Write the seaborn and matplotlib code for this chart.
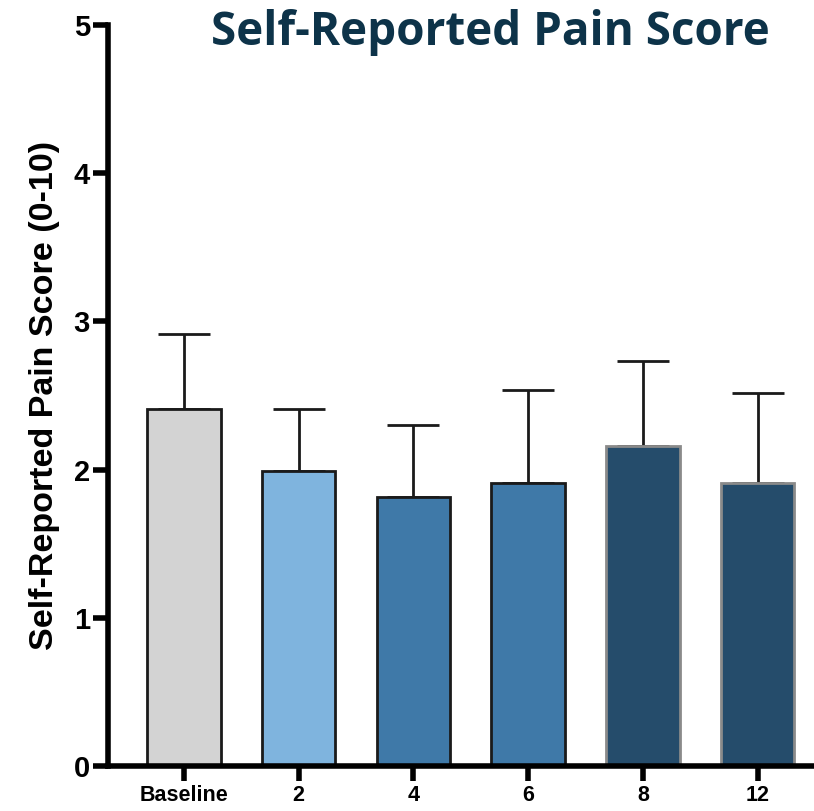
import matplotlib
matplotlib.use("Agg")
import matplotlib.pyplot as plt
import seaborn as sns
import numpy as np
import pandas as pd

# Mean pain score per visit (weeks) and upper SD bound
visits = ["Baseline", "2", "4", "6", "8", "12"]
means = [2.41, 1.99, 1.815, 1.91, 2.16, 1.91]
upper = [2.915, 2.41, 2.30, 2.54, 2.73, 2.52]
bar_colors = ["#d3d3d3", "#7fb4de", "#3f79a8", "#3f79a8", "#254c6b", "#254c6b"]
edge_colors = ["#1a1a1a", "#1a1a1a", "#1a1a1a", "#1a1a1a", "#8a8a8a", "#8a8a8a"]

df = pd.DataFrame({"visit": visits, "score": means})

sns.set_theme(style="white")
plt.rcParams["font.family"] = ["Liberation Sans", "DejaVu Sans"]
plt.rcParams["text.color"] = "black"
plt.rcParams["xtick.color"] = "black"
plt.rcParams["ytick.color"] = "black"
plt.rcParams["axes.labelcolor"] = "black"

fig = plt.figure(figsize=(8.14, 8.11), dpi=100)
ax = fig.add_axes([0.1327, 0.0555, 0.8673, 0.9137])

sns.barplot(data=df, x="visit", y="score", hue="visit", palette=bar_colors,
            saturation=1, legend=False, width=0.64, ax=ax, errorbar=None, zorder=2)

for patch, ec in zip(ax.patches, edge_colors):
    patch.set_edgecolor(ec)
    patch.set_linewidth(2)

x = np.arange(len(visits))
err = np.array(upper) - np.array(means)
ax.errorbar(x, means, yerr=[np.zeros_like(err), err], fmt="none",
            ecolor="#1a1a1a", elinewidth=2, capsize=19, capthick=2, zorder=1)

ax.set_ylim(0, 5)
ax.set_xlim(-0.66, 5.49)
ax.set_yticks([0, 1, 2, 3, 4, 5])
ax.set_yticklabels(["0", "1", "2", "3", "4", "5"], fontsize=21, fontweight="bold")
ax.set_xticks(x)
ax.set_xticklabels(visits, fontsize=15.5, fontweight="bold")
ax.set_xlabel("")
ax.set_ylabel("Self-Reported Pain Score (0-10)", fontsize=24.5, fontweight="bold", labelpad=10)

for side in ["top", "right"]:
    ax.spines[side].set_visible(False)
for side in ["left", "bottom"]:
    ax.spines[side].set_linewidth(4)
    ax.spines[side].set_color("black")
ax.tick_params(axis="both", which="major", length=11, width=4, color="black",
               labelcolor="black", direction="out", left=True, bottom=True, pad=3)
ax.tick_params(axis="y", pad=2)

fig.text(0.602, 0.960, "Self-Reported Pain Score", ha="center", va="center",
         fontsize=33, fontweight="bold", color="#0d3349",
         family=["Open Sans", "DejaVu Sans"])

fig.savefig("out.png", dpi=100)
